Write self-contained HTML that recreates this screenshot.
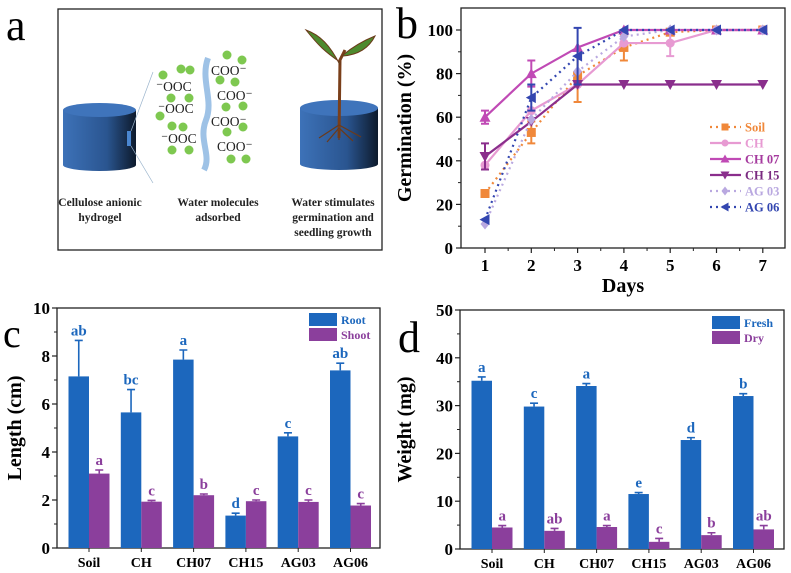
<!DOCTYPE html>
<html><head><meta charset="utf-8"><style>
body{margin:0;background:#fff}
svg{display:block;font-family:"Liberation Serif",serif;font-weight:bold}
</style></head><body>
<svg id="s" width="791" height="573" viewBox="0 0 791 573" xmlns="http://www.w3.org/2000/svg">
<defs>
<linearGradient id="cyl" x1="0" x2="1" y1="0" y2="0"><stop offset="0" stop-color="#3d72b8"/><stop offset="0.6" stop-color="#2a5590"/><stop offset="1" stop-color="#0d1a2c"/></linearGradient>
</defs>
<g>
<text x="6" y="40" font-size="44" font-weight="normal">a</text>
<rect x="58" y="9" width="324" height="241" fill="#fff" stroke="#222" stroke-width="1.3"/>
<g>
<rect x="63" y="110" width="73" height="55" fill="url(#cyl)"/>
<ellipse cx="99.5" cy="165" rx="36.5" ry="6" fill="url(#cyl)"/>
<ellipse cx="99.5" cy="110" rx="36.5" ry="7" fill="#3f74bb"/>
<rect x="127" y="131" width="4" height="15" fill="#4a86d0"/>
<line x1="131" y1="131" x2="153" y2="72" stroke="#9ab4cc" stroke-width="0.7"/>
<line x1="131" y1="146" x2="153" y2="183" stroke="#9ab4cc" stroke-width="0.7"/>
</g>
<g>
<path d="M208,58 C200,80 214,100 206,120 C198,140 212,155 204,170" fill="none" stroke="#9ec2e6" stroke-width="6"/>
<g fill="#7ec850">
<circle cx="163" cy="75" r="4.5"/><circle cx="181" cy="69" r="4.5"/><circle cx="190" cy="70" r="4.5"/><circle cx="227" cy="55" r="4.5"/><circle cx="242" cy="60" r="4.5"/><circle cx="220" cy="80" r="4.5"/><circle cx="235" cy="82" r="4.5"/><circle cx="171" cy="98" r="4.5"/><circle cx="189" cy="98" r="4.5"/><circle cx="226" cy="107" r="4.5"/><circle cx="243" cy="106" r="4.5"/><circle cx="160" cy="116" r="4.5"/><circle cx="172" cy="126" r="4.5"/><circle cx="183" cy="127" r="4.5"/><circle cx="227" cy="132" r="4.5"/><circle cx="243" cy="127" r="4.5"/><circle cx="172" cy="150" r="4.5"/><circle cx="189" cy="150" r="4.5"/><circle cx="231" cy="159" r="4.5"/><circle cx="246" cy="159" r="4.5"/>
</g>
<g font-size="13.5" font-weight="normal" fill="#222">
<text x="211" y="75">COO⁻</text><text x="156" y="91">⁻OOC</text><text x="217" y="100">COO⁻</text><text x="158" y="113">⁻OOC</text><text x="211" y="126">COO⁻</text><text x="161" y="143">⁻OOC</text><text x="217" y="151">COO⁻</text>
</g>
</g>
<g>
<rect x="300" y="108" width="78" height="56" fill="url(#cyl)"/>
<ellipse cx="339" cy="164" rx="39" ry="6" fill="url(#cyl)"/>
<ellipse cx="339" cy="108" rx="39" ry="8" fill="#3f74bb"/>
<path d="M339,138 L340,60 L345,50" fill="none" stroke="#7a3f1a" stroke-width="3"/>
<path d="M340,65 C330,45 320,35 306,30 C318,45 325,52 340,62Z" fill="#4d8a2e" stroke="#6b3a1a"/>
<path d="M343,55 C355,45 365,40 375,36 C368,50 355,55 343,56Z" fill="#4d8a2e" stroke="#6b3a1a"/>
<path d="M339,125 l-20,13 M339,125 l22,12 M339,128 l-12,14 M339,128 l14,13 M339,130 l0,10" stroke="#6b3a1a" stroke-width="1.2" fill="none"/>
</g>
<g font-size="11.5" font-weight="bold" text-anchor="middle" fill="#222">
<text x="100" y="206">Cellulose anionic</text><text x="100" y="221">hydrogel</text>
<text x="218" y="206">Water molecules</text><text x="218" y="221">adsorbed</text>
<text x="333" y="206">Water stimulates</text><text x="333" y="221">germination and</text><text x="333" y="236">seedling growth</text>
</g>
</g>
<text x="396" y="38" font-size="44" font-weight="normal">b</text>
<text x="3" y="347" font-size="40" font-weight="normal">c</text>
<text x="398" y="352" font-size="44" font-weight="normal">d</text>
<g id="gb"></g>
<g id="gc"></g>
<g id="gd"></g>
</svg>
<script>
const days=[1,2,3,4,5,6,7];
const soilVals=[25,53,79,92,99,100,100];
const chVals=[38,63,75,94,94,100,100];
const ch07Vals=[60,80,92,100,100,100,100];
const ch15Vals=[42,58,75,75,75,75,75];
const ag03Vals=[11,59,81,97,100,100,100];
const ag06Vals=[13,69,88,100,100,100,100];
const soilErr=[0,5,12,6,0,0,0];
const chErr=[0,0,0,0,6,0,0];
const ch07Err=[3,6,0,0,0,0,0];
const ch15Err=[6,0,0,0,0,0,0];
const ag03Err=[0,0,0,0,0,0,0];
const ag06Err=[0,6,13,0,0,0,0];
const bYTicks=[0,20,40,60,80,100];
const groups=["Soil","CH","CH07","CH15","AG03","AG06"];
const rootVals=[7.15,5.65,7.85,1.35,4.65,7.4];
const rootErr=[1.5,0.95,0.4,0.1,0.15,0.3];
const rootLetters=["ab","bc","a","d","c","ab"];
const shootVals=[3.1,1.93,2.2,1.95,1.92,1.77];
const shootErr=[0.15,0.05,0.05,0.05,0.08,0.08];
const shootLetters=["a","c","b","c","c","c"];
const cYTicks=[0,2,4,6,8,10];
const freshVals=[35.2,29.8,34.1,11.5,22.8,32.0];
const freshErr=[0.8,0.7,0.5,0.3,0.5,0.5];
const freshLetters=["a","c","a","e","d","b"];
const dryVals=[4.5,3.8,4.6,1.5,2.9,4.1];
const dryErr=[0.4,0.5,0.3,0.7,0.5,0.8];
const dryLetters=["a","ab","a","c","b","ab"];
const dYTicks=[0,10,20,30,40,50];

const NS="http://www.w3.org/2000/svg";
function mk(p,tag,a,txt){const e=document.createElementNS(NS,tag);for(const k in a)e.setAttribute(k,a[k]);if(txt!==undefined)e.textContent=txt;p.appendChild(e);return e;}

(function(){
const g=document.getElementById('gb');
const L=461,R=785,T=8,B=248;
const x=d=>485+(d-1)*46.3;
const y=v=>B-v*2.18;
let e=mk(g,'rect',{x:L,y:T,width:R-L,height:B-T,fill:'none',stroke:'#222','stroke-width':1.3});


bYTicks.forEach(v=>{mk(g,'line',{x1:L-5,x2:L,y1:y(v),y2:y(v),stroke:'#222','stroke-width':1.2});
 e=mk(g,'text',{x:L-8,y:y(v)+6,'font-size':17,'text-anchor':'end'},v);
 
 
 if(v<100)mk(g,'line',{x1:L-3,x2:L,y1:y(v+10),y2:y(v+10),stroke:'#222'});});
days.forEach(d=>{mk(g,'line',{x1:x(d),x2:x(d),y1:B,y2:B+5,stroke:'#222','stroke-width':1.2});
 if(d<7)mk(g,'line',{x1:x(d+0.5),x2:x(d+0.5),y1:B,y2:B+3,stroke:'#222'});
 e=mk(g,'text',{x:x(d),y:B+23,'font-size':17,'text-anchor':'middle'},d);
 
 });
e=mk(g,'text',{x:623,y:292,'font-size':20,'text-anchor':'middle'},'Days');


e=mk(g,'text',{x:411,y:128,'font-size':20,'text-anchor':'middle',transform:'rotate(-90 411 128)'},'Germination (%)');


const series=[
 {n:'Soil',v:soilVals,er:soilErr,c:'#f0883a',dash:'2,4',m:'sq',tc:'#f0883a'},
 {n:'CH',v:chVals,er:chErr,c:'#e79ad2',dash:'',m:'ci',tc:'#e79ad2'},
 {n:'CH 07',v:ch07Vals,er:ch07Err,c:'#c04ab5',dash:'',m:'tu',tc:'#a53a9e'},
 {n:'CH 15',v:ch15Vals,er:ch15Err,c:'#8a2e8c',dash:'',m:'td',tc:'#7a2a80'},
 {n:'AG 03',v:ag03Vals,er:ag03Err,c:'#b9a8e0',dash:'2,4',m:'di',tc:'#b9a8e0'},
 {n:'AG 06',v:ag06Vals,er:ag06Err,c:'#3346b0',dash:'2,4',m:'tl',tc:'#3346b0'}];
function marker(p,m,cx,cy,c,s){let d;
 if(m==='sq')return mk(p,'rect',{x:cx-s,y:cy-s,width:2*s,height:2*s,fill:c});
 if(m==='ci')return mk(p,'circle',{cx:cx,cy:cy,r:s,fill:c});
 if(m==='tu')d=`M${cx},${cy-s-1}L${cx+s+1},${cy+s}L${cx-s-1},${cy+s}Z`;
 if(m==='td')d=`M${cx},${cy+s+1}L${cx+s+1},${cy-s}L${cx-s-1},${cy-s}Z`;
 if(m==='di')d=`M${cx},${cy-s-1}L${cx+s},${cy}L${cx},${cy+s+1}L${cx-s},${cy}Z`;
 if(m==='tl')d=`M${cx-s-1},${cy}L${cx+s},${cy-s-1}L${cx+s},${cy+s+1}Z`;
 return mk(p,'path',{d:d,fill:c});}
series.forEach((s,i)=>{
 const sg=mk(g,'g',{});
 
 
 const pts=days.map((d,j)=>x(d)+','+y(s.v[j])).join(' ');
 mk(sg,'polyline',{points:pts,fill:'none',stroke:s.c,'stroke-width':2.2,'stroke-dasharray':s.dash});
 days.forEach((d,j)=>{if(s.er[j]>0){const X=x(d);
  mk(sg,'path',{d:`M${X},${y(s.v[j]-s.er[j])}V${y(s.v[j]+s.er[j])}M${X-4},${y(s.v[j]-s.er[j])}h8M${X-4},${y(s.v[j]+s.er[j])}h8`,stroke:s.c,'stroke-width':2,fill:'none'});}
  const mm=marker(sg,s.m,x(d),y(s.v[j]),s.c,4.5);
  
  });
 const ly=127+i*16;
 const lg=mk(g,'g',{});
 
 
 mk(lg,'line',{x1:710,x2:741,y1:ly,y2:ly,stroke:s.c,'stroke-width':2.2,'stroke-dasharray':s.dash});
 marker(lg,s.m,725,ly,s.c,3.5);
 mk(lg,'text',{x:745,y:ly+4.5,'font-size':12.5,fill:s.tc},s.n);
});
})();

function barChart(gid,L,R,T,B,max,ticks,minorStep,c0,title,titleX,A,Ae,Al,Bv,Be,Bl,nA,nB,legX,legY){
const g=document.getElementById(gid);
const y=v=>B-v*(B-T)/max;
const cx=i=>c0+i*52.3;
const bw=20.5;
let e=mk(g,'rect',{x:L,y:T,width:R-L,height:B-T,fill:'none',stroke:'#222','stroke-width':1.3});


ticks.forEach((v,k)=>{mk(g,'line',{x1:L-5,x2:L,y1:y(v),y2:y(v),stroke:'#222','stroke-width':1.2});
 if(k<ticks.length-1)mk(g,'line',{x1:L-3,x2:L,y1:y(v+minorStep),y2:y(v+minorStep),stroke:'#222'});
 e=mk(g,'text',{x:L-7,y:y(v)+6,'font-size':17,'text-anchor':'end'},v);
 
 });
e=mk(g,'text',{x:titleX,y:(T+B)/2,'font-size':20,'text-anchor':'middle',transform:`rotate(-90 ${titleX} ${(T+B)/2})`},title);


const blue='#1c67bd',pur='#8b3f9c';
groups.forEach((gn,i)=>{
 const X=cx(i);
 mk(g,'line',{x1:X,x2:X,y1:B,y2:B+4,stroke:'#222'});
 e=mk(g,'text',{x:X,y:B+19,'font-size':14,'text-anchor':'middle'},gn);
 
 
 [[A,Ae,Al,blue,X-bw,nA],[Bv,Be,Bl,pur,X,nB]].forEach(([v,er,lt,c,x0,nm])=>{
  const top=y(v[i]);
  mk(g,'path',{d:`M${x0+bw/2},${top}V${y(v[i]+er[i])}M${x0+bw/2-4},${y(v[i]+er[i])}h8`,stroke:c,'stroke-width':1.6,fill:'none'});
  const r=mk(g,'rect',{x:x0,y:top,width:bw,height:B-top,fill:c});
  
  
  const t=mk(g,'text',{x:x0+bw/2,y:y(v[i]+er[i])-5,'font-size':15,'text-anchor':'middle',fill:c},lt[i]);
  
  
 });
});
[[nA,blue,legY],[nB,pur,legY+15]].forEach(([n,c,ly])=>{
 const lg=mk(g,'g',{});
 
 
 mk(lg,'rect',{x:legX,y:ly,width:28,height:13,fill:c});
 mk(lg,'text',{x:legX+32,y:ly+11,'font-size':12,fill:c},n);
});
}
barChart('gc',57,380,308,548,10,cYTicks,1,89,'Length (cm)',21,rootVals,rootErr,rootLetters,shootVals,shootErr,shootLetters,'Root','Shoot',309,313);
barChart('gd',460,784,310,549,50,dYTicks,5,492,'Weight (mg)',411,freshVals,freshErr,freshLetters,dryVals,dryErr,dryLetters,'Fresh','Dry',712,316);
</script>
</body></html>
